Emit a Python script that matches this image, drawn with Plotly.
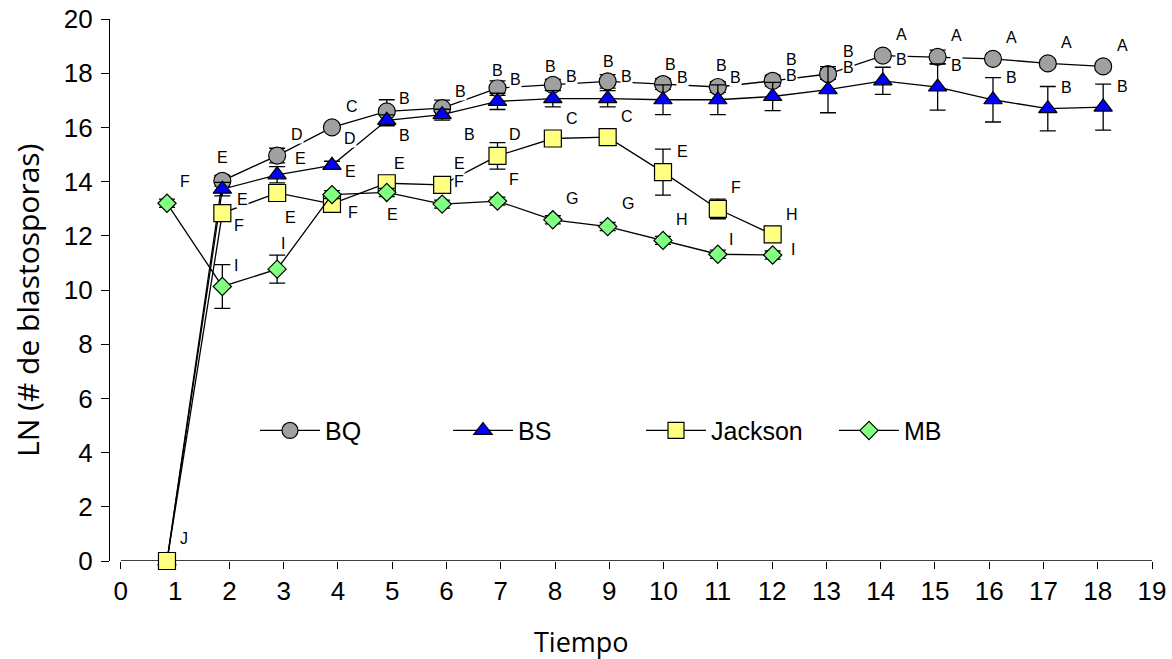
import plotly.graph_objects as go

# ---------------- data ----------------
time_pos = [0.85, 1.87, 2.88, 3.89, 4.90, 5.92, 6.94, 7.96, 8.97, 9.99,
            11.00, 12.01, 13.03, 14.04, 15.05, 16.07, 17.08, 18.10]

bq_y = [0.0, 14.03, 14.96, 16.00, 16.59, 16.71, 17.45, 17.57, 17.70, 17.60,
        17.49, 17.72, 17.97, 18.65, 18.60, 18.53, 18.36, 18.25]
bq_err = [0.0, 0.2, 0.27, 0.15, 0.43, 0.3, 0.27, 0.2, 0.25, 0.2,
          0.2, 0.2, 0.2, 0.15, 0.25, 0.15, 0.15, 0.15]
bq_letters = ["", "E", "D", "C", "B", "B", "B", "B", "B", "B",
              "B", "B", "B", "A", "A", "A", "A", "A"]

bs_y = [0.0, 13.72, 14.25, 14.60, 16.26, 16.47, 16.96, 17.06, 17.06, 17.02,
        17.02, 17.14, 17.39, 17.72, 17.49, 17.02, 16.69, 16.75]
bs_err = [0.0, 0.25, 0.3, 0.15, 0.2, 0.2, 0.3, 0.3, 0.3, 0.55,
          0.55, 0.52, 0.85, 0.5, 0.85, 0.82, 0.82, 0.85]
bs_letters = ["", "E", "E", "D", "B", "B", "B", "B", "B", "B",
              "B", "B", "B", "B", "B", "B", "B", "B"]

jk_y = [0.0, 12.84, 13.58, 13.18, 13.94, 13.88, 14.95, 15.59, 15.64, 14.35,
        12.99, 12.05]
jk_err = [0.0, 0.2, 0.2, 0.2, 0.15, 0.15, 0.49, 0.1, 0.1, 0.85, 0.36, 0.1]
jk_letters = ["J", "F", "E", "F", "E", "E", "D", "C", "C", "E", "F", "H"]

mb_y = [13.20, 10.13, 10.77, 13.52, 13.60, 13.17, 13.28, 12.59, 12.34, 11.83,
        11.32, 11.29]
mb_err = [0.15, 0.81, 0.52, 0.15, 0.15, 0.15, 0.15, 0.15, 0.15, 0.15, 0.15, 0.15]
mb_letters = ["F", "I", "I", "E", "E", "F", "F", "G", "G", "H", "I", "I"]

x_ticks = list(range(0, 20))
y_ticks = list(range(0, 21, 2))

# ---------------- label offsets (pixels, +down) ----------------
bq_off = [(0, 0), (0, -23), (20, -21), (20, -21), (18, -13), (18, -17), (0, -18),
          (-2, -18), (1, -20), (7, -20), (4, -22), (19, -21), (20, -23),
          (19, -21), (19, -21), (19, -21), (19, -21), (19, -21)]
bs_off = [(0, 0), (20, 10), (23, -16), (18, -27), (18, 15), (27, 20), (18, -22),
          (19, -22), (19, -22), (19, -22), (18, -22), (19, -21), (20, -22),
          (19, -21), (19, -22), (19, -22), (19, -21), (19, -21)]
jk_off = [(17, -23), (17, 12), (13, 25), (21, 9), (13, -20), (17, -21), (18, -21),
          (19, -20), (19, -21), (19, -21), (18, -21), (19, -20)]
mb_off = [(18, -22), (14, -21), (6, -26), (19, -23), (6, 22), (17, -23), (17, -22),
          (19, -21), (20, -23), (19, -21), (13, -15), (20, -6)]

TICK_FONT = "Liberation Sans, Arial, sans-serif"
TITLE_FONT = "Open Sans, sans-serif"

ML, MR, MT, MB_ = 110, 20, 19, 98
PW = 1172 - ML - MR
PH = 659 - MT - MB_

fig = go.Figure()

series = [
    ("BQ", bq_y, bq_err, "circle", "#A0A0A0", 17),
    ("BS", bs_y, bs_err, "triangle-up", "#0000FF", 16),
    ("Jackson", jk_y, jk_err, "square", "#FFFF80", 17),
    ("MB", mb_y, mb_err, "diamond", "#80FF80", 14),
]
for name, ys, errs, sym, col, sz in series:
    fig.add_trace(go.Scatter(
        x=time_pos[:len(ys)], y=ys, name=name, mode="lines+markers",
        line=dict(color="black", width=1.3),
        marker=dict(symbol=sym, size=sz, color=col, line=dict(color="black", width=1.2)),
        error_y=dict(type="data", array=errs, visible=True, color="black",
                     thickness=1.3, width=8),
        cliponaxis=False,
    ))

annotations = []
for ys, letters, offs in [(bq_y, bq_letters, bq_off), (bs_y, bs_letters, bs_off),
                          (jk_y, jk_letters, jk_off), (mb_y, mb_letters, mb_off)]:
    for i, (yv, lt) in enumerate(zip(ys, letters)):
        if not lt:
            continue
        dx, dy = offs[i]
        annotations.append(dict(
            x=time_pos[i], y=yv, xref="x", yref="y", text=lt, showarrow=False,
            xshift=dx, yshift=-dy, bgcolor="white", borderpad=0,
            xanchor="center", yanchor="middle",
            font=dict(family=TICK_FONT, size=16, color="black"),
        ))

annotations.append(dict(
    x=(581 - ML) / PW, y=(MT + PH - 641) / PH, xref="paper", yref="paper",
    text="Tiempo", showarrow=False, xanchor="center", yanchor="middle",
    font=dict(family=TITLE_FONT, size=27, color="black"),
))
annotations.append(dict(
    x=(27 - ML) / PW, y=(MT + PH - 301) / PH, xref="paper", yref="paper",
    text="LN (# de blastosporas)", textangle=-90, showarrow=False,
    xanchor="center", yanchor="middle",
    font=dict(family=TITLE_FONT, size=30, color="black"),
))

fig.update_layout(
    width=1172, height=659,
    margin=dict(l=ML, r=MR, t=MT, b=MB_, autoexpand=False),
    paper_bgcolor="white", plot_bgcolor="white",
    showlegend=True,
    legend=dict(orientation="h", x=(255 - ML) / PW, y=(MT + PH - 430.7) / PH,
                xanchor="left", yanchor="middle",
                font=dict(family=TICK_FONT, size=25, color="black"),
                bgcolor="rgba(0,0,0,0)", itemwidth=60, entrywidth=118,
                entrywidthmode="pixels", tracegroupgap=0),
    annotations=annotations,
    shapes=[dict(type="line", xref="x", yref="y", x0=0, x1=19, y0=0, y1=0,
                 line=dict(color="black", width=1.3), layer="below")],
)
fig.update_xaxes(
    range=[-0.2, 19.0], tickvals=x_ticks, ticktext=[str(t) for t in x_ticks],
    ticks="outside", ticklen=7, tickwidth=1.3, tickcolor="black",
    showline=False, showgrid=False, zeroline=False, automargin=False,
    tickfont=dict(family=TICK_FONT, size=26, color="black"),
)
fig.update_yaxes(
    range=[0, 20], tickvals=y_ticks, ticktext=[str(t) for t in y_ticks],
    ticks="outside", ticklen=8, tickwidth=1.3, tickcolor="black",
    showline=True, linecolor="black", linewidth=1.3, showgrid=False, zeroline=False,
    automargin=False, ticklabelstandoff=3,
    tickfont=dict(family=TICK_FONT, size=26, color="black"),
)

fig.write_html("out.html", config={"displayModeBar": False},
               post_script="document.body.style.margin='0';")
